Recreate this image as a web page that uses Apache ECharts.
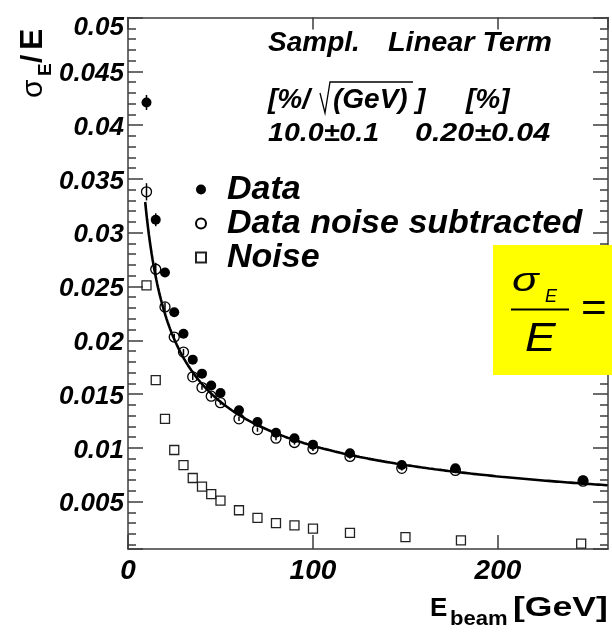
<!DOCTYPE html>
<html>
<head>
<meta charset="utf-8">
<script src="https://cdn.jsdelivr.net/npm/echarts@6/dist/echarts.min.js"></script>
<style>
  html, body { margin: 0; padding: 0; background: #fff; }
  #chart { width: 612px; height: 636px; }
</style>
</head>
<body>
<div id="chart"></div>
<script>
// Beam energies [GeV] of the measured points
const energies = [10, 15, 20, 25, 30, 35, 40, 45, 50, 60, 70, 80, 90, 100, 120, 148, 177, 246];
// Relative energy resolution sigma_E/E, raw data
const dataRes = [0.0421, 0.0312, 0.0263, 0.0226, 0.0206, 0.0182, 0.0169, 0.0158, 0.0151, 0.0135, 0.0124, 0.0114, 0.0109, 0.0103, 0.0095, 0.0084, 0.0081, 0.0070];
const dataErr = [0.0007, 0.0006, 0.0004, 0.0003, 0.0003, 0.0003, 0.0002, 0.0002, 0.0002, 0.0002, 0.0002, 0.0002, 0.0002, 0.0002, 0.0002, 0.0002, 0.0002, 0.0002];
// Resolution after electronic noise subtraction
const subRes = [0.0338, 0.0266, 0.0231, 0.0203, 0.0189, 0.0166, 0.0156, 0.0148, 0.0142, 0.0127, 0.0117, 0.0109, 0.0105, 0.0099, 0.0092, 0.0081, 0.0079, 0.0069];
const subErr = [0.0008, 0.0006, 0.0004, 0.0003, 0.0003, 0.0003, 0.0002, 0.0002, 0.0002, 0.0002, 0.0002, 0.0002, 0.0002, 0.0002, 0.0002, 0.0002, 0.0002, 0.0002];
// Noise contribution
const noiseEnergies = [10, 15, 20, 25, 30, 35, 40, 45, 50, 60, 70, 80, 90, 100, 120, 150, 180, 245];
const noiseRes = [0.0251, 0.0163, 0.0127, 0.0098, 0.0084, 0.0072, 0.0064, 0.0057, 0.0051, 0.0042, 0.0035, 0.0030, 0.0028, 0.0025, 0.0021, 0.0017, 0.0014, 0.0011];

// Fit parameters: sigma/E = a/sqrt(E) (+) b
const SAMPLING_TERM = 10.0;  // [%/sqrt(GeV)]
const LINEAR_TERM = 0.20;    // [%]
const fitRange = [9.3, 259.5];

// Axis ranges
const xRange = [0, 259.5];
const yRange = [0.0006, 0.05];
const xTickStep = 100;

const FONT = '"Liberation Sans", Arial, Helvetica, sans-serif';

function fitValue(e) {
  const a = SAMPLING_TERM / 100, b = LINEAR_TERM / 100;
  return Math.sqrt(a * a / e + b * b);
}
const fitCurve = [];
for (let e = fitRange[0]; e < fitRange[1]; e += 0.5) fitCurve.push([e, fitValue(e)]);
fitCurve.push([fitRange[1], fitValue(fitRange[1])]);

const frameColor = '#3c3c3c';
const lineStyle = { color: frameColor, width: 1.5 };

// text placed with its alphabetic baseline at y
function baseTxt(text, x, yBase, size, opts) {
  opts = opts || {};
  const el = {
    type: 'text', x: x, y: yBase, z: opts.z || 50,
    style: {
      text: text, fill: '#000', align: opts.align || 'left', verticalAlign: 'middle',
      y: -0.35 * size,
      font: (opts.italic ? 'italic ' : '') + (opts.bold === false ? 'normal ' : 'bold ') + size + 'px ' + FONT
    }
  };
  if (opts.sx) el.scaleX = opts.sx;
  return el;
}

function errorSeries(vals, errs) {
  return {
    type: 'custom', silent: true, z: 1,
    data: energies.map((e, i) => [e, vals[i] - errs[i], vals[i] + errs[i]]),
    encode: { x: 0, y: [1, 2] },
    renderItem: function (params, api) {
      const p1 = api.coord([api.value(0), api.value(1)]);
      const p2 = api.coord([api.value(0), api.value(2)]);
      return { type: 'line', shape: { x1: p1[0], y1: p1[1], x2: p2[0], y2: p2[1] },
               style: { stroke: '#000', lineWidth: 1.5 } };
    }
  };
}

const labelFont = { fontFamily: FONT, fontWeight: 'bold', fontStyle: 'italic', color: '#000' };

const chart = echarts.init(document.getElementById('chart'), null, { renderer: 'canvas' });
chart.setOption({
  animation: false,
  backgroundColor: '#fff',
  grid: { left: 128, right: 4, top: 17.5, bottom: 87, containLabel: false },
  xAxis: [
    {
      type: 'value', position: 'bottom', min: xRange[0], max: xRange[1], interval: xTickStep,
      axisLine: { show: true, lineStyle: lineStyle },
      axisTick: { show: true, inside: true, length: 14, lineStyle: lineStyle },
      splitLine: { show: false },
      axisLabel: Object.assign({ fontSize: 28, margin: 8, showMaxLabel: false,
        formatter: v => String(v) }, labelFont)
    },
    {
      type: 'value', position: 'top', min: xRange[0], max: xRange[1], interval: xTickStep,
      axisLine: { show: true, onZero: false, lineStyle: lineStyle },
      axisTick: { show: true, inside: true, length: 12, lineStyle: lineStyle },
      splitLine: { show: false }, axisLabel: { show: false }
    }
  ],
  yAxis: [
    {
      type: 'value', position: 'left', min: yRange[0], max: yRange[1], splitNumber: 10,
      axisLine: { show: true, onZero: false, lineStyle: lineStyle },
      axisTick: { show: true, inside: true, length: 15, lineStyle: lineStyle },
      minorTick: { show: true, splitNumber: 5, length: 8, lineStyle: lineStyle },
      splitLine: { show: false },
      axisLabel: Object.assign({
        fontSize: 26, margin: 4, showMinLabel: false,
        formatter: v => {
          const s = String(+v.toFixed(4));
          return Math.abs(v - yRange[1]) < 1e-9 ? '{t|' + s + '}' : '{n|' + s + '}';
        },
        rich: {
          t: Object.assign({ fontSize: 26, padding: [20, 0, 0, 0] }, labelFont),
          n: Object.assign({ fontSize: 26, padding: [5, 0, 0, 0] }, labelFont)
        }
      }, labelFont)
    },
    {
      type: 'value', position: 'right', min: yRange[0], max: yRange[1], splitNumber: 10,
      axisLine: { show: true, onZero: false, lineStyle: lineStyle },
      axisTick: { show: true, inside: true, length: 15, lineStyle: lineStyle },
      minorTick: { show: true, splitNumber: 5, length: 8, lineStyle: lineStyle },
      splitLine: { show: false }, axisLabel: { show: false }
    }
  ],
  legend: {
    orient: 'vertical', left: 190, top: 167.5, itemWidth: 10, itemHeight: 10, itemGap: 0,
    selectedMode: false,
    data: ['Data', 'Data noise subtracted', 'Noise'],
    textStyle: Object.assign({ fontSize: 34, lineHeight: 19.5, padding: [14, 0, 0, 16] }, labelFont)
  },
  series: [
    errorSeries(subRes, subErr),
    errorSeries(dataRes, dataErr),
    {
      name: 'Data noise subtracted', type: 'scatter', symbol: 'circle', symbolSize: 10, z: 3,
      itemStyle: { color: 'rgba(255,255,255,0)', borderColor: '#000', borderWidth: 1.3, opacity: 1 },
      data: energies.map((e, i) => [e, subRes[i]])
    },
    {
      name: 'Noise', type: 'scatter', symbol: 'rect', symbolSize: 9, z: 3,
      itemStyle: { color: 'rgba(255,255,255,0)', borderColor: '#222', borderWidth: 1.3, opacity: 1 },
      data: noiseEnergies.map((e, i) => [e, noiseRes[i]])
    },
    {
      name: 'Fit', type: 'line', showSymbol: false, symbol: 'none', z: 4, silent: true,
      lineStyle: { color: '#000', width: 2.6 },
      data: fitCurve
    },
    {
      name: 'Data', type: 'scatter', symbol: 'circle', symbolSize: 10, z: 5,
      itemStyle: { color: '#000', opacity: 1 },
      data: energies.map((e, i) => [e, dataRes[i]])
    }
  ],
  graphic: [
    // fit parameter table
    baseTxt('Sampl.', 268, 53.3, 28, { italic: true }),
    baseTxt('Linear Term', 388, 53.3, 28, { italic: true, sx: 1.03 }),
    baseTxt('[%/', 268, 110, 28, { italic: true }),
    { type: 'polyline', z: 50, shape: { points: [[320, 93], [325, 113], [330, 82], [413, 82]] },
      style: { stroke: '#000', lineWidth: 1.3, fill: null } },
    baseTxt('(GeV)', 333, 110, 28, { italic: true }),
    baseTxt(']', 416, 110, 28, { italic: true }),
    baseTxt('[%]', 466, 110, 28, { italic: true }),
    baseTxt('10.0\u00b10.1', 268, 143.3, 26, { italic: true, sx: 1.1 }),
    baseTxt('0.20\u00b10.04', 415, 143.3, 26, { italic: true, sx: 1.17 }),

    // resolution formula box
    { type: 'rect', z: 60, shape: { x: 493, y: 245, width: 119, height: 130 }, style: { fill: '#ffff00' } },
    baseTxt('\u03c3', 512, 293.5, 34, { italic: true, bold: false, sx: 1.3, z: 61 }),
    baseTxt('E', 545, 303, 18, { italic: true, bold: false, z: 61 }),
    { type: 'line', z: 61, shape: { x1: 511, y1: 309.5, x2: 569, y2: 309.5 }, style: { stroke: '#000', lineWidth: 2 } },
    baseTxt('E', 525, 354, 40, { italic: true, bold: false, sx: 1.15, z: 61 }),
    baseTxt('=', 581, 324, 40, { bold: false, sx: 1.1, z: 61 }),

    // y-axis title, written upward
    {
      type: 'group', x: 44.5, y: 98, rotation: Math.PI / 2, z: 50,
      children: [
        baseTxt('\u03c3', 0, 0, 30, { bold: false }),
        baseTxt('E', 22, 7.5, 19),
        baseTxt('/', 35, 0, 30),
        baseTxt('E', 48, 0, 32)
      ]
    },

    // x-axis title
    baseTxt('E', 430, 618, 26),
    baseTxt('beam', 450, 627, 21, { sx: 1.05 }),
    baseTxt('[GeV]', 513, 618, 28, { sx: 1.27 })
  ]
});
</script>
</body>
</html>
